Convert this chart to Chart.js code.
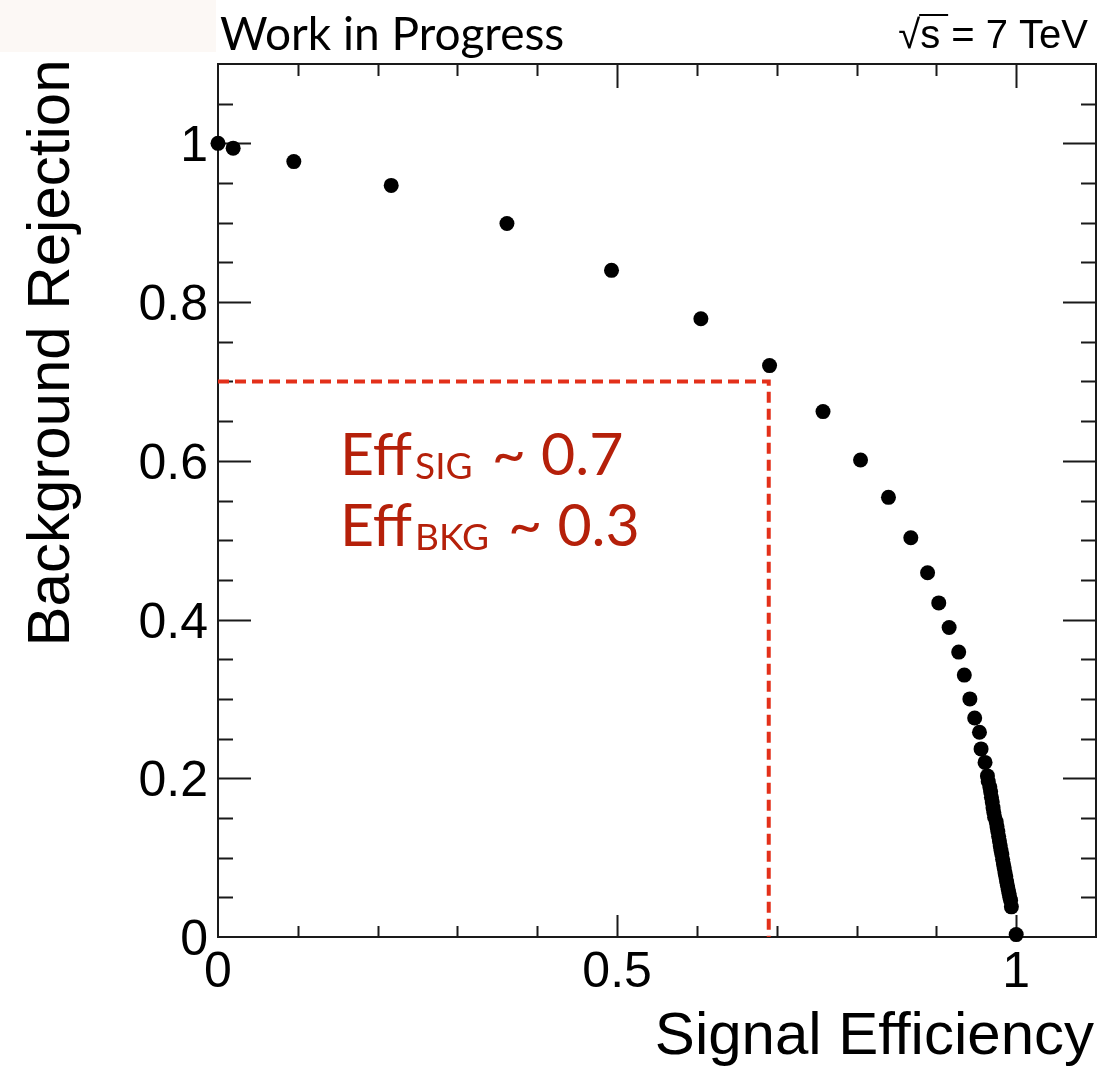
<!DOCTYPE html>
<html>
<head>
<meta charset="utf-8">
<title>ROC curve</title>
<script src="https://cdn.jsdelivr.net/npm/chart.js@4.4.1/dist/chart.umd.min.js"></script>
<style>
  html, body { margin: 0; padding: 0; background: #fff; overflow: hidden; }
  canvas { display: block; }
</style>
</head>
<body>
<canvas id="roc" width="1097" height="1066"></canvas>
<script>
// signal efficiency / background rejection pairs along the ROC curve
const sigEff = [
  0.000, 0.019, 0.095, 0.217, 0.362, 0.493, 0.605, 0.691, 0.758, 0.805,
  0.840, 0.868, 0.889, 0.903, 0.916, 0.928, 0.935, 0.942, 0.948, 0.954,
  0.956, 0.961, 0.964, 0.965, 0.967, 0.968, 0.969, 0.970, 0.971, 0.972,
  0.973, 0.975, 0.976, 0.977, 0.978, 0.979, 0.980, 0.981, 0.982, 0.983,
  0.984, 0.985, 0.986, 0.987, 0.988, 0.989, 0.990, 0.991, 0.992, 0.993,
  0.994, 1.000
];
const bkgRej = [
  1.000, 0.994, 0.977, 0.947, 0.899, 0.840, 0.779, 0.720, 0.662, 0.601,
  0.554, 0.503, 0.459, 0.421, 0.390, 0.359, 0.330, 0.300, 0.276, 0.258,
  0.237, 0.220, 0.203, 0.196, 0.189, 0.183, 0.176, 0.170, 0.163, 0.157,
  0.151, 0.145, 0.139, 0.133, 0.127, 0.121, 0.115, 0.109, 0.104, 0.098,
  0.092, 0.087, 0.081, 0.076, 0.070, 0.065, 0.060, 0.055, 0.050, 0.046,
  0.038, 0.003
];

// working point marked with the dashed guide
const cutSigEff = 0.69;
const cutBkgRej = 0.70;

const xTickValues = [0, 0.5, 1];
const xTickLabels = ['0', '0.5', '1'];
const yTickValues = [0, 0.2, 0.4, 0.6, 0.8, 1];
const yTickLabels = ['0', '0.2', '0.4', '0.6', '0.8', '1'];

const rocPoints = sigEff.map((x, i) => ({ x: x, y: bkgRej[i] }));
const cutLine = [
  { x: 0, y: cutBkgRej },
  { x: cutSigEff, y: cutBkgRej },
  { x: cutSigEff, y: 0 }
];

const AXIS_FONT = '"Liberation Sans", Arial, Helvetica, sans-serif';

// frame with inward ticks on all four sides, like a ROOT canvas
const rootFrame = {
  id: 'rootFrame',
  beforeDatasetsDraw(chart) {
    const { ctx, chartArea: a, scales } = chart;
    const xs = scales.x, ys = scales.y;
    ctx.save();
    ctx.strokeStyle = '#1a1a1a';
    ctx.lineWidth = 2;
    ctx.strokeRect(a.left, a.top, a.right - a.left, a.bottom - a.top);

    ctx.beginPath();
    for (let i = 1; i <= 10; i++) {
      const v = i / 10;
      const px = Math.round(xs.getPixelForValue(v)) + 0.5;
      const major = i % 5 === 0;
      const lenB = major ? 22 : 11;
      const lenT = major ? 24 : 12;
      ctx.moveTo(px, a.bottom); ctx.lineTo(px, a.bottom - lenB);
      ctx.moveTo(px, a.top); ctx.lineTo(px, a.top + lenT);
    }
    for (let i = 1; i <= 21; i++) {
      const v = i * 0.05;
      const py = Math.round(ys.getPixelForValue(v)) + 0.5;
      const major = i % 4 === 0;
      const len = major ? 33 : 15;
      ctx.moveTo(a.left, py); ctx.lineTo(a.left + len, py);
      ctx.moveTo(a.right, py); ctx.lineTo(a.right - len, py);
    }
    ctx.stroke();
    ctx.restore();
  },
  afterDraw(chart) {
    const { ctx, chartArea: a, scales } = chart;
    const xs = scales.x, ys = scales.y;
    ctx.save();

    // faint slide background in the top-left corner
    ctx.fillStyle = '#fcf8f5';
    ctx.fillRect(0, 0, a.left - 2, 52);

    // tick labels
    ctx.fillStyle = '#000';
    ctx.font = '50px ' + AXIS_FONT;
    ctx.textBaseline = 'alphabetic';
    ctx.textAlign = 'right';
    yTickValues.forEach((v, i) => {
      ctx.fillText(yTickLabels[i], a.left - 10, ys.getPixelForValue(v) + 18);
    });
    ctx.textAlign = 'center';
    xTickValues.forEach((v, i) => {
      ctx.fillText(xTickLabels[i], xs.getPixelForValue(v), a.bottom + 50);
    });

    // axis titles
    ctx.font = '60px ' + AXIS_FONT;
    ctx.textAlign = 'right';
    ctx.fillText('Signal Efficiency', 1094, 1054);
    ctx.save();
    ctx.translate(69, 353);
    ctx.rotate(-Math.PI / 2);
    ctx.textAlign = 'center';
    ctx.fillText('Background Rejection', 0, 0);
    ctx.restore();

    // header texts
    ctx.textAlign = 'left';
    ctx.font = '46px Lato, "Open Sans", sans-serif';
    ctx.fillText('Work in Progress', 220, 50);

    ctx.font = '40px ' + AXIS_FONT;
    ctx.textAlign = 'right';
    ctx.fillText('s = 7 TeV', 1088, 48);
    const sW = ctx.measureText('s = 7 TeV').width;
    const sLeft = 1088 - sW;
    ctx.fillText('\u221A', sLeft, 48);
    ctx.strokeStyle = '#000';
    ctx.lineWidth = 2;
    ctx.beginPath();
    ctx.moveTo(sLeft - 1, 15);
    ctx.lineTo(sLeft + 28, 15);
    ctx.stroke();

    // working point annotation
    ctx.fillStyle = '#b5200a';
    ctx.textAlign = 'left';
    const drawEff = (sub, value, baseline) => {
      let x = 340;
      ctx.font = '59px Lato, sans-serif';
      ctx.fillText('Eff', x, baseline);
      x += ctx.measureText('Eff').width + 3;
      ctx.font = '37px Lato, sans-serif';
      ctx.fillText(sub, x, baseline + 4);
      x += ctx.measureText(sub).width + 4;
      ctx.font = '59px Lato, sans-serif';
      ctx.fillText(' ~ ' + value, x, baseline);
    };
    drawEff('SIG', '0.7', 475);
    drawEff('BKG', '0.3', 546);

    ctx.restore();
  }
};

new Chart(document.getElementById('roc'), {
  type: 'scatter',
  data: {
    datasets: [
      {
        data: rocPoints,
        pointRadius: 7.5,
        pointBackgroundColor: '#000',
        pointBorderWidth: 0,
        showLine: false,
        clip: false,
        order: 0
      },
      {
        data: cutLine,
        showLine: true,
        borderColor: '#e3301a',
        borderWidth: 4,
        borderDash: [11, 6],
        pointRadius: 0,
        fill: false,
        order: 1
      }
    ]
  },
  options: {
    responsive: false,
    animation: false,
    events: [],
    layout: {
      autoPadding: false,
      padding: { left: 218, top: 64, right: 1, bottom: 129 }
    },
    plugins: {
      legend: { display: false },
      tooltip: { enabled: false }
    },
    scales: {
      x: { type: 'linear', min: 0, max: 1.1, display: false },
      y: { type: 'linear', min: 0, max: 1.1, display: false }
    }
  },
  plugins: [rootFrame]
});
</script>
</body>
</html>
